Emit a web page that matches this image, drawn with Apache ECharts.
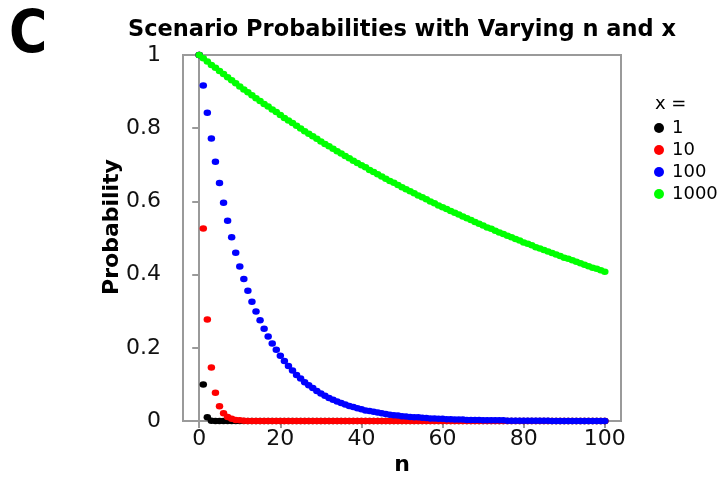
<!DOCTYPE html>
<html>
<head>
<meta charset="utf-8">
<script src="https://cdn.jsdelivr.net/npm/echarts@6/dist/echarts.min.js"></script>
<style>
  html, body { margin: 0; padding: 0; background: #fff; }
  #main { width: 719px; height: 477px; }
</style>
</head>
<body>
<div id="main"></div>
<script>
// n values on the x axis
var nValues = [
  0, 1, 2, 3, 4, 5, 6, 7, 8, 9,
  10, 11, 12, 13, 14, 15, 16, 17, 18, 19,
  20, 21, 22, 23, 24, 25, 26, 27, 28, 29,
  30, 31, 32, 33, 34, 35, 36, 37, 38, 39,
  40, 41, 42, 43, 44, 45, 46, 47, 48, 49,
  50, 51, 52, 53, 54, 55, 56, 57, 58, 59,
  60, 61, 62, 63, 64, 65, 66, 67, 68, 69,
  70, 71, 72, 73, 74, 75, 76, 77, 78, 79,
  80, 81, 82, 83, 84, 85, 86, 87, 88, 89,
  90, 91, 92, 93, 94, 95, 96, 97, 98, 99,
  100
];

// x = 1
var probX1 = [
  1, 0.1, 0.01, 0.001, 0, 0, 0, 0, 0, 0,
  0, 0, 0, 0, 0, 0, 0, 0, 0, 0,
  0, 0, 0, 0, 0, 0, 0, 0, 0, 0,
  0, 0, 0, 0, 0, 0, 0, 0, 0, 0,
  0, 0, 0, 0, 0, 0, 0, 0, 0, 0,
  0, 0, 0, 0, 0, 0, 0, 0, 0, 0,
  0, 0, 0, 0, 0, 0, 0, 0, 0, 0,
  0, 0, 0, 0, 0, 0, 0, 0, 0, 0,
  0, 0, 0, 0, 0, 0, 0, 0, 0, 0,
  0, 0, 0, 0, 0, 0, 0, 0, 0, 0,
  0
];

// x = 10
var probX10 = [
  1, 0.526, 0.277, 0.146, 0.077, 0.040, 0.021, 0.011, 0.006, 0.003,
  0.002, 0.001, 0, 0, 0, 0, 0, 0, 0, 0,
  0, 0, 0, 0, 0, 0, 0, 0, 0, 0,
  0, 0, 0, 0, 0, 0, 0, 0, 0, 0,
  0, 0, 0, 0, 0, 0, 0, 0, 0, 0,
  0, 0, 0, 0, 0, 0, 0, 0, 0, 0,
  0, 0, 0, 0, 0, 0, 0, 0, 0, 0,
  0, 0, 0, 0, 0, 0, 0, 0, 0, 0,
  0, 0, 0, 0, 0, 0, 0, 0, 0, 0,
  0, 0, 0, 0, 0, 0, 0, 0, 0, 0,
  0
];

// x = 100
var probX100 = [
  1, 0.917, 0.842, 0.772, 0.708, 0.650, 0.596, 0.547, 0.502, 0.460,
  0.422, 0.388, 0.356, 0.326, 0.299, 0.275, 0.252, 0.231, 0.212, 0.195,
  0.178, 0.164, 0.150, 0.138, 0.126, 0.116, 0.106, 0.098, 0.090, 0.082,
  0.075, 0.069, 0.063, 0.058, 0.053, 0.049, 0.045, 0.041, 0.038, 0.035,
  0.032, 0.029, 0.027, 0.025, 0.023, 0.021, 0.019, 0.017, 0.016, 0.015,
  0.013, 0.012, 0.011, 0.010, 0.010, 0.009, 0.008, 0.007, 0.007, 0.006,
  0.006, 0.005, 0.005, 0.004, 0.004, 0.004, 0.003, 0.003, 0.003, 0.003,
  0.002, 0.002, 0.002, 0.002, 0.002, 0.002, 0.001, 0.001, 0.001, 0.001,
  0.001, 0.001, 0.001, 0.001, 0.001, 0.001, 0.001, 0, 0, 0,
  0, 0, 0, 0, 0, 0, 0, 0, 0, 0,
  0
];

// x = 1000
var probX1000 = [
  1, 0.991, 0.982, 0.973, 0.965, 0.956, 0.948, 0.939, 0.931, 0.923,
  0.914, 0.906, 0.898, 0.890, 0.882, 0.874, 0.866, 0.859, 0.851, 0.844,
  0.836, 0.828, 0.821, 0.814, 0.807, 0.799, 0.792, 0.785, 0.778, 0.771,
  0.764, 0.757, 0.751, 0.744, 0.737, 0.731, 0.724, 0.718, 0.711, 0.705,
  0.699, 0.693, 0.686, 0.680, 0.674, 0.668, 0.662, 0.656, 0.651, 0.645,
  0.639, 0.633, 0.628, 0.622, 0.616, 0.611, 0.606, 0.600, 0.595, 0.589,
  0.584, 0.579, 0.574, 0.569, 0.564, 0.559, 0.554, 0.549, 0.544, 0.539,
  0.534, 0.529, 0.525, 0.520, 0.515, 0.511, 0.506, 0.502, 0.497, 0.493,
  0.488, 0.484, 0.480, 0.475, 0.471, 0.467, 0.463, 0.459, 0.455, 0.451,
  0.446, 0.443, 0.439, 0.435, 0.431, 0.427, 0.423, 0.419, 0.416, 0.412,
  0.408
];

var seriesNames = ['1', '10', '100', '1000'];
var seriesColors = ['#000000', '#ff0000', '#0000ff', '#00ff00'];
var xTicks = [0, 20, 40, 60, 80, 100];

function pairs(ys) {
  var out = [];
  for (var i = 0; i < nValues.length; i++) {
    out.push([nValues[i], ys[i]]);
  }
  return out;
}

var allProbs = [probX1, probX10, probX100, probX1000];
var series = [];
for (var s = 0; s < allProbs.length; s++) {
  series.push({
    name: seriesNames[s],
    type: 'scatter',
    symbol: 'circle',
    symbolSize: [7.5, 6.5],
    itemStyle: { color: seriesColors[s], opacity: 1 },
    data: pairs(allProbs[s]),
    z: 2 + s
  });
}

var frameColor = '#9a9a9a';
var font = 'DejaVu Sans';

var chart = echarts.init(document.getElementById('main'), null, { renderer: 'canvas' });
chart.setOption({
  backgroundColor: '#ffffff',
  animation: false,
  textStyle: { fontFamily: font },
  title: [{
    text: 'Scenario Probabilities with Varying n and x',
    left: 397,
    textAlign: 'center',
    top: 14,
    textStyle: { fontFamily: font, fontSize: 22.5, fontWeight: 'bold', color: '#000' }
  }, {
    text: 'x =',
    left: 650,
    top: 90,
    textStyle: { fontFamily: font, fontSize: 18, fontWeight: 'normal', color: '#000' }
  }],
  // panel letter, a bit narrower than the plain bold face
  graphic: [{
    type: 'text',
    x: 9,
    y: 37,
    scaleX: 0.9,
    style: {
      text: 'C',
      font: 'bold 58px "DejaVu Sans"',
      fill: '#000',
      verticalAlign: 'middle'
    }
  }],
  legend: {
    orient: 'vertical',
    left: 654,
    top: 119,
    padding: 0,
    icon: 'circle',
    itemWidth: 10,
    itemHeight: 10,
    itemGap: 4,
    textStyle: { fontFamily: font, fontSize: 18, color: '#000', padding: [0, 0, 0, 3] },
    data: seriesNames
  },
  grid: {
    left: 183,
    top: 55,
    width: 438,
    height: 366,
    outerBoundsMode: 'none',
    containLabel: false,
    show: true,
    borderColor: frameColor,
    borderWidth: 2,
    backgroundColor: 'transparent'
  },
  xAxis: {
    type: 'value',
    min: -4,
    max: 104,
    name: 'n',
    nameLocation: 'middle',
    nameGap: 33,
    nameMoveOverlap: false,
    nameTextStyle: { fontFamily: font, fontSize: 22, fontWeight: 'bold', color: '#000' },
    axisLine: { show: true, onZero: false, lineStyle: { color: frameColor, width: 2 } },
    axisTick: { show: true, length: 7, customValues: xTicks, lineStyle: { color: frameColor, width: 2 } },
    axisLabel: { customValues: xTicks, margin: 7, fontFamily: font, fontSize: 22, color: '#111' },
    splitLine: { show: false }
  },
  yAxis: {
    type: 'value',
    min: 0,
    max: 1,
    interval: 0.2,
    name: 'Probability',
    nameLocation: 'middle',
    nameGap: 60,
    nameMoveOverlap: false,
    nameTextStyle: { fontFamily: font, fontSize: 22, fontWeight: 'bold', color: '#000', padding: [0, 0, 0, 22] },
    axisLine: { show: true, lineStyle: { color: frameColor, width: 2 } },
    axisTick: { show: true, length: 7, lineStyle: { color: frameColor, width: 2 } },
    axisLabel: { margin: 22, fontFamily: font, fontSize: 22, color: '#111' },
    splitLine: { show: false }
  },
  series: series
});
</script>
</body>
</html>
